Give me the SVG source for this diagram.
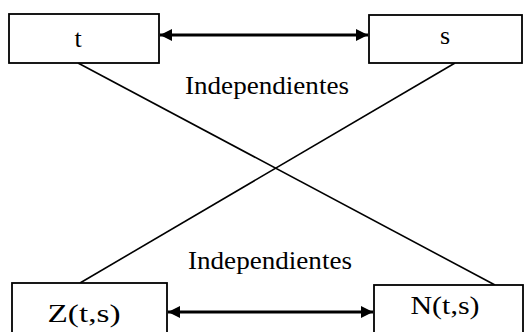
<svg xmlns="http://www.w3.org/2000/svg" width="524" height="332" viewBox="0 0 524 332">
<defs>
<style>
.box{fill:#fff;stroke:#000;stroke-width:1.8}
.lbl{font-family:"Liberation Serif","Times New Roman",serif;fill:#000;text-anchor:middle}
.arr{stroke:#000;stroke-width:3;fill:none}
.diag{stroke:#000;stroke-width:1.6;fill:none}
</style>
<marker id="ah" viewBox="0 0 12 12" refX="12" refY="6" markerWidth="12" markerHeight="12" markerUnits="userSpaceOnUse" orient="auto-start-reverse">
<path d="M0,0 L12,6 L0,12 Z" fill="#000"/>
</marker>
</defs>
<rect width="524" height="332" fill="#fff"/>
<g id="connectors">
<line class="diag" x1="78" y1="63" x2="495" y2="285"/>
<line class="diag" x1="455" y1="63" x2="80" y2="283"/>
<line class="arr" x1="160" y1="35" x2="368" y2="35" marker-start="url(#ah)" marker-end="url(#ah)"/>
<line class="arr" x1="168" y1="312" x2="373" y2="312" marker-start="url(#ah)" marker-end="url(#ah)"/>
<text class="lbl" x="267" y="94" font-size="26" textLength="164" lengthAdjust="spacingAndGlyphs">Independientes</text>
<text class="lbl" x="270" y="269" font-size="26" textLength="164" lengthAdjust="spacingAndGlyphs">Independientes</text>
</g>
<g id="node-t">
<rect class="box" x="9" y="14" width="150" height="49"/>
<text class="lbl" x="78" y="47" font-size="26">t</text>
</g>
<g id="node-s">
<rect class="box" x="369" y="15" width="153" height="48"/>
<text class="lbl" x="445" y="44" font-size="26">s</text>
</g>
<g id="node-z">
<rect class="box" x="12" y="283" width="155" height="60"/>
<text class="lbl" x="84" y="322" font-size="25" textLength="73" lengthAdjust="spacingAndGlyphs">Z(t,s)</text>
</g>
<g id="node-n">
<rect class="box" x="374" y="285" width="149" height="60"/>
<text class="lbl" x="445" y="314" font-size="26" textLength="69" lengthAdjust="spacingAndGlyphs">N(t,s)</text>
</g>
</svg>
